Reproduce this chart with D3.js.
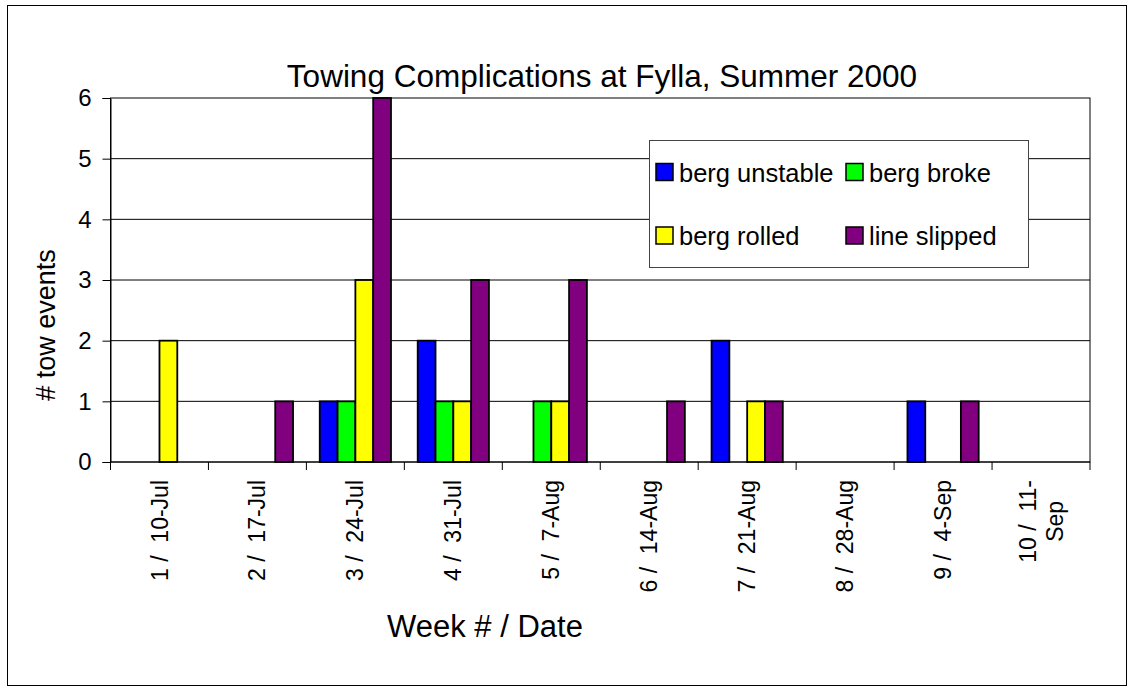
<!DOCTYPE html>
<html lang="en">
<head>
    <meta charset="UTF-8">
    <title>Towing Complications at Fylla, Summer 2000</title>
    <style>
        body {
            margin: 0;
            background: #fff;
            font-family: Arial, "Liberation Sans", sans-serif;
        }

        svg text {
            fill: #000;
            white-space: pre;
        }
    </style>
</head>
<body>
    <div id="chart"></div>
    <script src="https://d3js.org/d3.v7.min.js"></script>
    <script>
        // week labels (second array entry = wrapped line)
        const weeks = [
            ["1 /  10-Jul"], ["2 /  17-Jul"], ["3 /  24-Jul"], ["4 /  31-Jul"], ["5 /  7-Aug"],
            ["6 /  14-Aug"], ["7 /  21-Aug"], ["8 /  28-Aug"], ["9 /  4-Sep"], ["10 /  11-", "Sep"]
        ];
        const seriesNames = ["berg unstable", "berg broke", "berg rolled", "line slipped"];
        const bergUnstable = [0, 0, 1, 2, 0, 0, 2, 0, 1, 0];
        const bergBroke    = [0, 0, 1, 1, 1, 0, 0, 0, 0, 0];
        const bergRolled   = [2, 0, 3, 1, 1, 0, 1, 0, 0, 0];
        const lineSlipped  = [0, 1, 6, 3, 3, 1, 1, 0, 1, 0];
        const yTicks = [0, 1, 2, 3, 4, 5, 6];

        const colors = ["#0000ff", "#00ff00", "#ffff00", "#800080"];
        const seriesValues = [bergUnstable, bergBroke, bergRolled, lineSlipped];

        const W = 1129, H = 688;
        const plot = { left: 110.5, right: 1090, top: 98, bottom: 462 };

        const svg = d3.select("#chart")
            .append("svg")
            .attr("width", W)
            .attr("height", H);

        // outer chart frame
        svg.append("rect")
            .attr("x", 7.5).attr("y", 5.5)
            .attr("width", 1119).attr("height", 680)
            .attr("fill", "#fff")
            .attr("stroke", "#000");

        const x0 = d3.scaleBand()
            .domain(d3.range(weeks.length))
            .range([plot.left, plot.right])
            .padding(0);

        // Excel style: gap of 1.5 bar widths per category
        const bw = x0.bandwidth();
        const barW = bw / 5.5;
        const x1 = d3.scaleBand()
            .domain(seriesNames)
            .range([barW * 0.75, bw - barW * 0.75])
            .padding(0);

        const y = d3.scaleLinear()
            .domain([0, 6])
            .range([plot.bottom, plot.top]);

        // gridlines
        svg.append("g")
            .selectAll("line")
            .data(yTicks.filter(d => d > 0 && d < 6))
            .join("line")
            .attr("x1", plot.left).attr("x2", plot.right)
            .attr("y1", d => y(d)).attr("y2", d => y(d))
            .attr("stroke", "#000")
            .attr("stroke-width", 1);

        // plot frame
        svg.append("rect")
            .attr("x", plot.left).attr("y", plot.top)
            .attr("width", plot.right - plot.left)
            .attr("height", plot.bottom - plot.top)
            .attr("fill", "none")
            .attr("stroke", "#000");

        // bars
        const groups = svg.append("g")
            .selectAll("g")
            .data(weeks.map((w, i) => i))
            .join("g")
            .attr("transform", i => `translate(${x0(i)},0)`);

        groups.selectAll("rect")
            .data(i => seriesNames.map((s, k) => ({ s, k, v: seriesValues[k][i] })).filter(d => d.v > 0))
            .join("rect")
            .attr("x", d => x1(d.s))
            .attr("y", d => y(d.v))
            .attr("width", x1.bandwidth())
            .attr("height", d => y(0) - y(d.v))
            .attr("fill", d => colors[d.k])
            .attr("stroke", "#000")
            .attr("stroke-width", 1.8);

        // y axis
        const yAxis = svg.append("g")
            .attr("transform", `translate(${plot.left},0)`)
            .call(d3.axisLeft(y).tickValues(yTicks).tickFormat(d3.format("d")).tickSize(8).tickPadding(11));
        yAxis.select(".domain").attr("stroke", "#000");
        yAxis.selectAll(".tick line").attr("stroke", "#000");
        yAxis.selectAll(".tick text")
            .attr("font-size", 24)
            .attr("font-family", "Arial, 'Liberation Sans', sans-serif")
            .attr("fill", "#000");

        // x axis: ticks on category boundaries
        const xAxis = svg.append("g");
        xAxis.append("line")
            .attr("x1", plot.left).attr("x2", plot.right)
            .attr("y1", plot.bottom).attr("y2", plot.bottom)
            .attr("stroke", "#000");
        xAxis.selectAll(".tick")
            .data(d3.range(weeks.length + 1))
            .join("line")
            .attr("class", "tick")
            .attr("x1", i => i < weeks.length ? x0(i) : plot.right)
            .attr("x2", i => i < weeks.length ? x0(i) : plot.right)
            .attr("y1", plot.bottom).attr("y2", plot.bottom + 8)
            .attr("stroke", "#000");

        const labelTop = 480;
        const lineH = 27;
        const labelSize = 23;
        weeks.forEach((lines, i) => {
            const cx = x0(i) + bw / 2;
            const t = xAxis.append("text")
                .attr("font-size", labelSize)
                .attr("transform", `translate(${cx - (lines.length - 1) * lineH / 2},${labelTop}) rotate(-90)`);
            const first = t.append("tspan")
                .attr("x", 0).attr("dy", "0.35em")
                .attr("text-anchor", "end")
                .text(lines[0]);
            if (lines.length > 1) {
                const len = first.node().getComputedTextLength();
                t.append("tspan")
                    .attr("x", -len / 2).attr("y", 0).attr("dy", lineH + 0.35 * labelSize)
                    .attr("text-anchor", "middle")
                    .text(lines[1]);
            }
        });

        // titles
        svg.append("text")
            .attr("x", 602).attr("y", 87)
            .attr("text-anchor", "middle")
            .attr("font-size", 31.5)
            .text("Towing Complications at Fylla, Summer 2000");

        svg.append("text")
            .attr("x", 485).attr("y", 637)
            .attr("text-anchor", "middle")
            .attr("font-size", 31)
            .text("Week # / Date");

        svg.append("text")
            .attr("transform", "translate(55,325) rotate(-90)")
            .attr("text-anchor", "middle")
            .attr("font-size", 27)
            .text("# tow events");

        // legend
        const legend = svg.append("g");
        legend.append("rect")
            .attr("x", 649.5).attr("y", 140.5)
            .attr("width", 379).attr("height", 127)
            .attr("fill", "#fff")
            .attr("stroke", "#444");

        const legCols = [656, 846];
        const legRows = [163.5, 227];
        seriesNames.forEach((name, k) => {
            const lx = legCols[k % 2], ly = legRows[Math.floor(k / 2)];
            legend.append("rect")
                .attr("x", lx).attr("y", ly)
                .attr("width", 17).attr("height", 17)
                .attr("fill", colors[k])
                .attr("stroke", "#000")
                .attr("stroke-width", 1.5);
            legend.append("text")
                .attr("x", lx + 23).attr("y", ly + 18)
                .attr("font-size", 25.5)
                .text(name);
        });
    </script>
</body>
</html>
